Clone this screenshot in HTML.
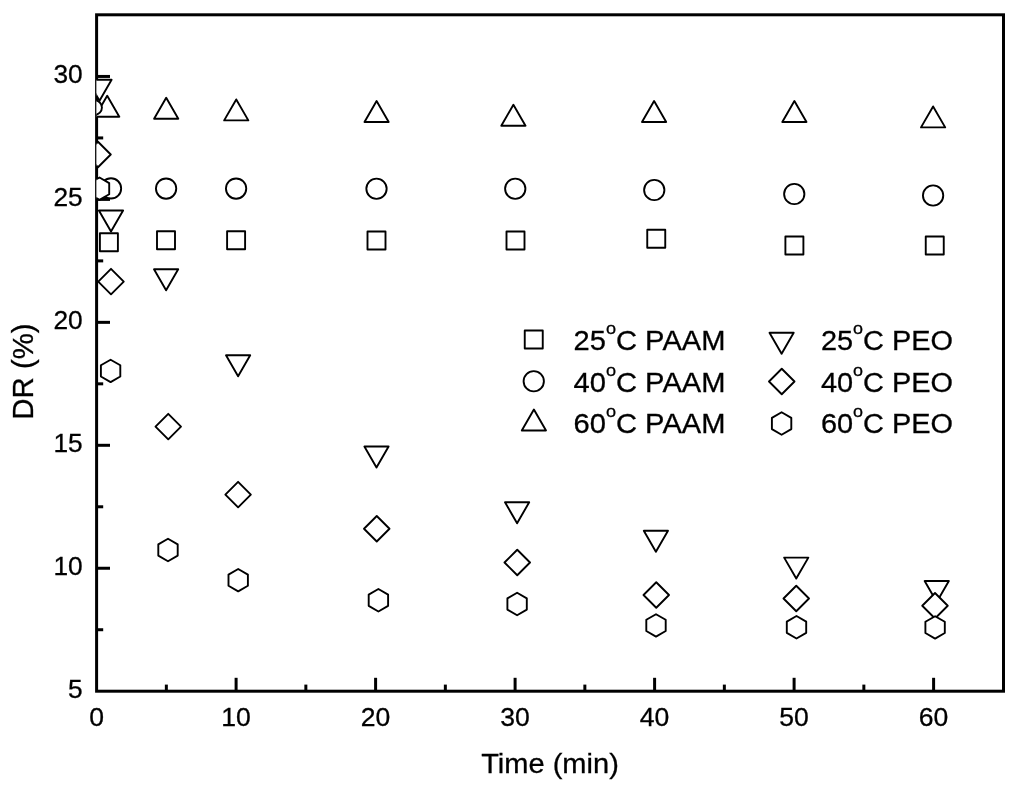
<!DOCTYPE html>
<html><head><meta charset="utf-8"><title>DR vs Time</title>
<style>
html,body{margin:0;padding:0;background:#fff;}
body{width:1024px;height:786px;overflow:hidden;}
svg{display:block;filter:blur(0.3px);}
text{font-family:"Liberation Sans",sans-serif;fill:#000;stroke:#000;stroke-width:0.3px;}
.tk{font-size:26.3px;}
.ti{font-size:28.2px;}
.lg{font-size:28px;}
.m{fill:#fff;stroke:#000;stroke-width:1.9;stroke-linejoin:round;}
</style></head><body>
<svg width="1024" height="786" viewBox="0 0 1024 786">
<rect x="0" y="0" width="1024" height="786" fill="#fff"/>
<defs><clipPath id="cp"><rect x="96.35" y="14.80" width="907.15" height="676.40"/></clipPath></defs>
<g stroke="#000" stroke-width="3.0" fill="none" stroke-linecap="butt">
<rect x="96.6" y="14.8" width="906.90" height="676.40"/>
<line x1="166.35" y1="691.20" x2="166.35" y2="684.60"/>
<line x1="236.10" y1="691.20" x2="236.10" y2="677.80"/>
<line x1="305.85" y1="691.20" x2="305.85" y2="684.60"/>
<line x1="375.60" y1="691.20" x2="375.60" y2="677.80"/>
<line x1="445.35" y1="691.20" x2="445.35" y2="684.60"/>
<line x1="515.10" y1="691.20" x2="515.10" y2="677.80"/>
<line x1="584.85" y1="691.20" x2="584.85" y2="684.60"/>
<line x1="654.60" y1="691.20" x2="654.60" y2="677.80"/>
<line x1="724.35" y1="691.20" x2="724.35" y2="684.60"/>
<line x1="794.10" y1="691.20" x2="794.10" y2="677.80"/>
<line x1="863.85" y1="691.20" x2="863.85" y2="684.60"/>
<line x1="933.60" y1="691.20" x2="933.60" y2="677.80"/>
<line x1="96.60" y1="629.73" x2="103.20" y2="629.73"/>
<line x1="96.60" y1="568.25" x2="110.00" y2="568.25"/>
<line x1="96.60" y1="506.78" x2="103.20" y2="506.78"/>
<line x1="96.60" y1="445.30" x2="110.00" y2="445.30"/>
<line x1="96.60" y1="383.83" x2="103.20" y2="383.83"/>
<line x1="96.60" y1="322.35" x2="110.00" y2="322.35"/>
<line x1="96.60" y1="260.88" x2="103.20" y2="260.88"/>
<line x1="96.60" y1="199.40" x2="110.00" y2="199.40"/>
<line x1="96.60" y1="137.93" x2="103.20" y2="137.93"/>
<line x1="96.60" y1="76.45" x2="110.00" y2="76.45"/>
</g>
<g class="tk" text-anchor="middle">
<text transform="translate(96.60,726.1) scale(1.01,1)">0</text>
<text transform="translate(236.10,726.1) scale(1.01,1)">10</text>
<text transform="translate(375.60,726.1) scale(1.01,1)">20</text>
<text transform="translate(515.10,726.1) scale(1.01,1)">30</text>
<text transform="translate(654.60,726.1) scale(1.01,1)">40</text>
<text transform="translate(794.10,726.1) scale(1.01,1)">50</text>
<text transform="translate(933.60,726.1) scale(1.01,1)">60</text>
</g>
<g class="tk" text-anchor="end">
<text transform="translate(82.7,698.20) scale(1.0,1)">5</text>
<text transform="translate(82.7,575.25) scale(1.0,1)">10</text>
<text transform="translate(82.7,452.30) scale(1.0,1)">15</text>
<text transform="translate(82.7,329.35) scale(1.0,1)">20</text>
<text transform="translate(82.7,206.40) scale(1.0,1)">25</text>
<text transform="translate(82.7,83.45) scale(1.0,1)">30</text>
</g>
<text class="ti" text-anchor="middle" transform="translate(550,773.3) scale(1.03,1)">Time (min)</text>
<text class="ti" style="font-size:29px" text-anchor="middle" transform="translate(33.3,371.5) rotate(-90) scale(1.014,1.04)">DR (%)</text>
<g class="m" clip-path="url(#cp)">
<rect x="99.90" y="233.20" width="18.0" height="18.0"/>
<rect x="157.00" y="231.20" width="18.0" height="18.0"/>
<rect x="227.10" y="231.20" width="18.0" height="18.0"/>
<rect x="367.50" y="231.50" width="18.0" height="18.0"/>
<rect x="506.50" y="231.50" width="18.0" height="18.0"/>
<rect x="647.25" y="229.75" width="18.0" height="18.0"/>
<rect x="785.40" y="236.50" width="18.0" height="18.0"/>
<rect x="925.75" y="236.50" width="18.0" height="18.0"/>
<circle cx="111.00" cy="188.40" r="10.15"/>
<circle cx="166.10" cy="188.60" r="10.15"/>
<circle cx="236.10" cy="188.60" r="10.15"/>
<circle cx="376.50" cy="188.75" r="10.15"/>
<circle cx="515.25" cy="188.75" r="10.15"/>
<circle cx="654.25" cy="190.00" r="10.15"/>
<circle cx="794.25" cy="194.00" r="10.15"/>
<circle cx="933.10" cy="195.50" r="10.15"/>
<polygon points="107.20,95.72 119.30,116.68 95.10,116.68"/>
<polygon points="166.20,97.72 178.30,118.68 154.10,118.68"/>
<polygon points="236.25,99.42 248.35,120.38 224.15,120.38"/>
<polygon points="376.60,101.02 388.70,121.98 364.50,121.98"/>
<polygon points="513.40,104.77 525.50,125.73 501.30,125.73"/>
<polygon points="654.10,101.02 666.20,121.98 642.00,121.98"/>
<polygon points="794.40,101.02 806.50,121.98 782.30,121.98"/>
<polygon points="933.10,106.42 945.20,127.38 921.00,127.38"/>
<circle cx="94.75" cy="107.60" r="7.2"/>
<polygon points="87.40,79.82 111.60,79.82 99.50,100.78"/>
<polygon points="98.90,210.52 123.10,210.52 111.00,231.48"/>
<polygon points="154.00,269.22 178.20,269.22 166.10,290.18"/>
<polygon points="226.00,355.27 250.20,355.27 238.10,376.23"/>
<polygon points="364.40,446.52 388.60,446.52 376.50,467.48"/>
<polygon points="505.00,502.27 529.20,502.27 517.10,523.23"/>
<polygon points="643.80,530.77 668.00,530.77 655.90,551.73"/>
<polygon points="784.15,557.62 808.35,557.62 796.25,578.58"/>
<polygon points="924.65,581.02 948.85,581.02 936.75,601.98"/>
<polygon points="98.00,141.75 110.75,154.50 98.00,167.25 85.25,154.50"/>
<polygon points="111.00,268.85 123.75,281.60 111.00,294.35 98.25,281.60"/>
<polygon points="168.25,413.85 181.00,426.60 168.25,439.35 155.50,426.60"/>
<polygon points="238.10,481.85 250.85,494.60 238.10,507.35 225.35,494.60"/>
<polygon points="376.75,516.00 389.50,528.75 376.75,541.50 364.00,528.75"/>
<polygon points="517.25,549.75 530.00,562.50 517.25,575.25 504.50,562.50"/>
<polygon points="656.25,582.25 669.00,595.00 656.25,607.75 643.50,595.00"/>
<polygon points="796.25,585.75 809.00,598.50 796.25,611.25 783.50,598.50"/>
<polygon points="935.00,593.00 947.75,605.75 935.00,618.50 922.25,605.75"/>
<polygon points="99.50,177.50 109.20,183.10 109.20,194.30 99.50,199.90 89.80,194.30 89.80,183.10"/>
<polygon points="110.60,359.70 120.30,365.30 120.30,376.50 110.60,382.10 100.90,376.50 100.90,365.30"/>
<polygon points="168.00,538.80 177.70,544.40 177.70,555.60 168.00,561.20 158.30,555.60 158.30,544.40"/>
<polygon points="238.20,569.00 247.90,574.60 247.90,585.80 238.20,591.40 228.50,585.80 228.50,574.60"/>
<polygon points="378.40,589.05 388.10,594.65 388.10,605.85 378.40,611.45 368.70,605.85 368.70,594.65"/>
<polygon points="517.10,592.80 526.80,598.40 526.80,609.60 517.10,615.20 507.40,609.60 507.40,598.40"/>
<polygon points="656.00,614.20 665.70,619.80 665.70,631.00 656.00,636.60 646.30,631.00 646.30,619.80"/>
<polygon points="796.50,616.05 806.20,621.65 806.20,632.85 796.50,638.45 786.80,632.85 786.80,621.65"/>
<polygon points="935.10,616.20 944.80,621.80 944.80,633.00 935.10,638.60 925.40,633.00 925.40,621.80"/>
</g>
<g class="m">
<rect x="524.75" y="330.50" width="18.0" height="18.0"/>
<circle cx="533.75" cy="381.25" r="10.15"/>
<polygon points="533.90,409.52 546.00,430.48 521.80,430.48"/>
<polygon points="769.50,332.77 793.70,332.77 781.60,353.73"/>
<polygon points="781.75,368.75 794.50,381.50 781.75,394.25 769.00,381.50"/>
<polygon points="781.60,412.30 791.30,417.90 791.30,429.10 781.60,434.70 771.90,429.10 771.90,417.90"/>
</g>
<text class="lg" transform="translate(573.5,350) scale(1.041,1)">25<tspan dy="-15.8" font-size="17.4px">o</tspan><tspan dy="15.8">C PAAM</tspan></text>
<text class="lg" transform="translate(820.9,350) scale(1.033,1)">25<tspan dy="-15.8" font-size="17.4px">o</tspan><tspan dy="15.8">C PEO</tspan></text>
<text class="lg" transform="translate(573.5,391.5) scale(1.041,1)">40<tspan dy="-15.8" font-size="17.4px">o</tspan><tspan dy="15.8">C PAAM</tspan></text>
<text class="lg" transform="translate(820.9,391.5) scale(1.033,1)">40<tspan dy="-15.8" font-size="17.4px">o</tspan><tspan dy="15.8">C PEO</tspan></text>
<text class="lg" transform="translate(573.5,433) scale(1.041,1)">60<tspan dy="-15.8" font-size="17.4px">o</tspan><tspan dy="15.8">C PAAM</tspan></text>
<text class="lg" transform="translate(820.9,433) scale(1.033,1)">60<tspan dy="-15.8" font-size="17.4px">o</tspan><tspan dy="15.8">C PEO</tspan></text>
</svg>
</body></html>
